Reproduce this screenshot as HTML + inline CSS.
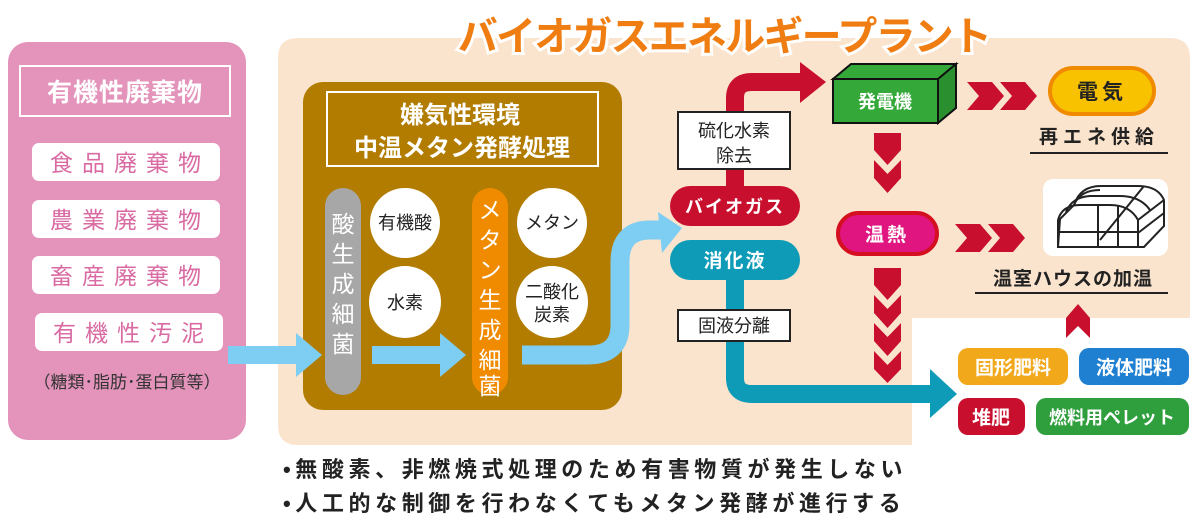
<!DOCTYPE html>
<html><head><meta charset="utf-8"><style>
html,body{margin:0;padding:0;background:#fff;}
svg text{font-family:"Liberation Sans","Noto Sans CJK JP",sans-serif;font-weight:bold;}
svg .n text, svg text.n{font-weight:normal;}
</style></head><body>
<svg width="1200" height="526" viewBox="0 0 1200 526" xmlns="http://www.w3.org/2000/svg">
<path d="M298 38 H1170 Q1190 38 1190 58 V318 H912 V445 H298 Q278 445 278 425 V58 Q278 38 298 38 Z" fill="#fbe4cd"/>
<rect x="8" y="42" width="238" height="398" rx="20" fill="#e493bb"/>
<rect x="20" y="66" width="210" height="50" fill="none" stroke="#fff" stroke-width="2"/>
<text x="125" y="101" font-size="25" fill="#fff" text-anchor="middle" letter-spacing="1">有機性廃棄物</text>
<g class="n" font-size="23" fill="#d96aa2" text-anchor="middle" letter-spacing="9">
<rect x="32" y="143" width="188" height="38" rx="7" fill="#fff"/><text x="130" y="171">食品廃棄物</text>
<rect x="32" y="200" width="188" height="38" rx="7" fill="#fff"/><text x="130" y="228">農業廃棄物</text>
<rect x="32" y="256" width="188" height="38" rx="7" fill="#fff"/><text x="130" y="284">畜産廃棄物</text>
<rect x="35" y="313" width="188" height="38" rx="7" fill="#fff"/><text x="133" y="341">有機性汚泥</text>
</g>
<text class="n" x="127" y="388" font-size="17" fill="#333" text-anchor="middle">（糖類･脂肪･蛋白質等）</text>

<text x="724" y="50" font-size="40" fill="#ef7d12" stroke="#fff" stroke-width="6" paint-order="stroke" text-anchor="middle" letter-spacing="-1.8">バイオガスエネルギープラント</text>

<rect x="303" y="82" width="319" height="328" rx="20" fill="#b17c00"/>
<rect x="327" y="92" width="271" height="74" fill="none" stroke="#fff" stroke-width="2"/>
<text x="460" y="123" font-size="24" fill="#fff" text-anchor="middle">嫌気性環境</text>
<text x="462" y="156" font-size="24" fill="#fff" text-anchor="middle">中温メタン発酵処理</text>
<rect x="325" y="188" width="36" height="207" rx="18" fill="#a7a7a7"/>
<g class="n" font-size="23" fill="#fff" text-anchor="middle">
<text x="343" y="232">酸</text><text x="343" y="262">生</text><text x="343" y="292">成</text><text x="343" y="322">細</text><text x="343" y="352">菌</text>
</g>
<rect x="472" y="188" width="36" height="207" rx="18" fill="#f08b00"/>
<g class="n" font-size="23" fill="#fff" text-anchor="middle">
<text x="490" y="218">メ</text><text x="490" y="248">タ</text><text x="490" y="278">ン</text><text x="490" y="308">生</text><text x="490" y="338">成</text><text x="490" y="368">細</text><text x="490" y="394">菌</text>
</g>
<g fill="#fff"><circle cx="405" cy="223" r="35"/><circle cx="405" cy="302" r="36"/><circle cx="552" cy="223" r="35"/><circle cx="552" cy="302" r="36"/></g>
<g class="n" font-size="18" fill="#222" text-anchor="middle">
<text x="405" y="229">有機酸</text><text x="405" y="309">水素</text><text x="552" y="229">メタン</text><text x="552" y="298">二酸化</text><text x="552" y="321">炭素</text>
</g>

<g fill="#7ecdf2">
<rect x="228" y="346" width="72" height="18"/><polygon points="296,333 322,355 296,377"/>
<rect x="372" y="346" width="72" height="18"/><polygon points="440,333 466,355 440,377"/>
</g>
<path d="M522 355 H588 Q620 355 620 325 V262 Q620 230 650 230 H662" fill="none" stroke="#7ecdf2" stroke-width="19"/>
<polygon points="658,212 682,228 662,253" fill="#7ecdf2"/>

<path d="M735 190 V98 Q735 82 752 82 H800" fill="none" stroke="#c8102e" stroke-width="18"/>
<polygon points="800,62 826,82 800,103" fill="#c8102e"/>
<path d="M735 275 V378 Q735 394 752 394 H930" fill="none" stroke="#0e9bb7" stroke-width="18"/>
<polygon points="930,369 957,394 930,418" fill="#0e9bb7"/>

<rect x="678" y="112" width="112" height="57" fill="#fff" stroke="#222" stroke-width="2"/>
<text class="n" x="734" y="137" font-size="18" fill="#222" text-anchor="middle">硫化水素</text>
<text class="n" x="734" y="162" font-size="18" fill="#222" text-anchor="middle">除去</text>
<rect x="670" y="186" width="130" height="40" rx="20" fill="#c8102e"/>
<text x="735" y="213" font-size="18" fill="#fff" text-anchor="middle" letter-spacing="2">バイオガス</text>
<rect x="670" y="240" width="130" height="40" rx="20" fill="#0e9bb7"/>
<text x="735" y="267" font-size="19" fill="#fff" text-anchor="middle" letter-spacing="2">消化液</text>
<rect x="678" y="310" width="112" height="31" fill="#fff" stroke="#222" stroke-width="2"/>
<text class="n" x="734" y="332" font-size="18" fill="#222" text-anchor="middle">固液分離</text>

<polygon points="833,79 851,64 956,64 938,79" fill="#35a83a" stroke="#111" stroke-width="2"/>
<polygon points="938,79 956,64 956,108 938,123" fill="#2a8f2f" stroke="#111" stroke-width="2"/>
<rect x="833" y="79" width="105" height="44" fill="#35a83a" stroke="#111" stroke-width="2"/>
<text x="885" y="108" font-size="18" fill="#fff" text-anchor="middle">発電機</text>

<g fill="#c8102e">
<polygon points="967,82 992,82 1004,96 992,110 967,110 979,96"/>
<polygon points="1000,82 1025,82 1037,96 1025,110 1000,110 1012,96"/>
<polygon points="955,224 980,224 992,238 980,252 955,252 967,238"/>
<polygon points="988,224 1013,224 1025,238 1013,252 988,252 1000,238"/>
<polygon points="874,133 901,133 901,150 887.5,165 874,150"/>
<polygon points="874,160 887.5,174 901,160 901,178 887.5,193 874,178"/>
<polygon points="874,268 901,268 901,285 887.5,300 874,285"/>
<polygon points="874,295 887.5,309 901,295 901,313 887.5,328 874,313"/>
<polygon points="874,323 887.5,337 901,323 901,341 887.5,356 874,341"/>
<polygon points="874,351 887.5,365 901,351 901,369 887.5,383 874,369" />
<polygon points="1066,338 1066,318 1078,304 1090,318 1090,338 1078,326"/>
</g>

<rect x="838" y="213" width="99" height="41" rx="20.5" fill="#e0157f" stroke="#d40f1f" stroke-width="4"/>
<text x="887" y="241" font-size="19" fill="#fff" text-anchor="middle" letter-spacing="3">温熱</text>
<rect x="1050" y="68" width="104" height="46" rx="23" fill="#f8c200" stroke="#f08a00" stroke-width="4"/>
<text x="1102" y="99" font-size="21" fill="#222" text-anchor="middle" letter-spacing="4">電気</text>
<text x="1099" y="143" font-size="19" fill="#222" text-anchor="middle" letter-spacing="5">再エネ供給</text>
<line x1="1030" y1="153" x2="1168" y2="153" stroke="#222" stroke-width="2"/>

<rect x="1043" y="179" width="125" height="77" rx="10" fill="#fff"/>
<g fill="none" stroke="#222" stroke-width="2">
<path d="M1058 247 L1144 247 L1164 226 L1164 200 Q1158 186 1138 186 L1101 186 Q1080 186 1074 205 L1060 219 Z"/>
<path d="M1058 247 V220 Q1062 205 1080 205 H1110 Q1130 205 1138 220 V247"/>
<path d="M1066 212 Q1072 197 1090 196 H1120 Q1140 196 1150 210"/>
<path d="M1074 205 Q1080 190 1100 190"/>
<path d="M1138 220 L1164 200 M1098 247 V205 M1118 247 V205 M1058 232 H1138 M1138 233 L1164 213 M1100 240 L1144 186"/>
</g>
<text x="1073" y="285" font-size="19" fill="#222" text-anchor="middle" letter-spacing="1">温室ハウスの加温</text>
<line x1="975" y1="293" x2="1168" y2="293" stroke="#222" stroke-width="2"/>

<rect x="958" y="348" width="110" height="37" rx="10" fill="#f2a81b"/>
<text x="1013" y="374" font-size="19" fill="#fff" text-anchor="middle">固形肥料</text>
<rect x="1079" y="348" width="110" height="37" rx="10" fill="#1f80d2"/>
<text x="1134" y="374" font-size="19" fill="#fff" text-anchor="middle">液体肥料</text>
<rect x="958" y="398" width="67" height="37" rx="10" fill="#c8102e"/>
<text x="991" y="424" font-size="19" fill="#fff" text-anchor="middle">堆肥</text>
<rect x="1036" y="398" width="153" height="37" rx="10" fill="#2f9e3d"/>
<text x="1112" y="424" font-size="18" fill="#fff" text-anchor="middle">燃料用ペレット</text>

<text x="283" y="477" font-size="22" fill="#222" letter-spacing="4.6">•無酸素、非燃焼式処理のため有害物質が発生しない</text>
<text x="283" y="511" font-size="22" fill="#222" letter-spacing="4.6">•人工的な制御を行わなくてもメタン発酵が進行する</text>
</svg>
</body></html>
